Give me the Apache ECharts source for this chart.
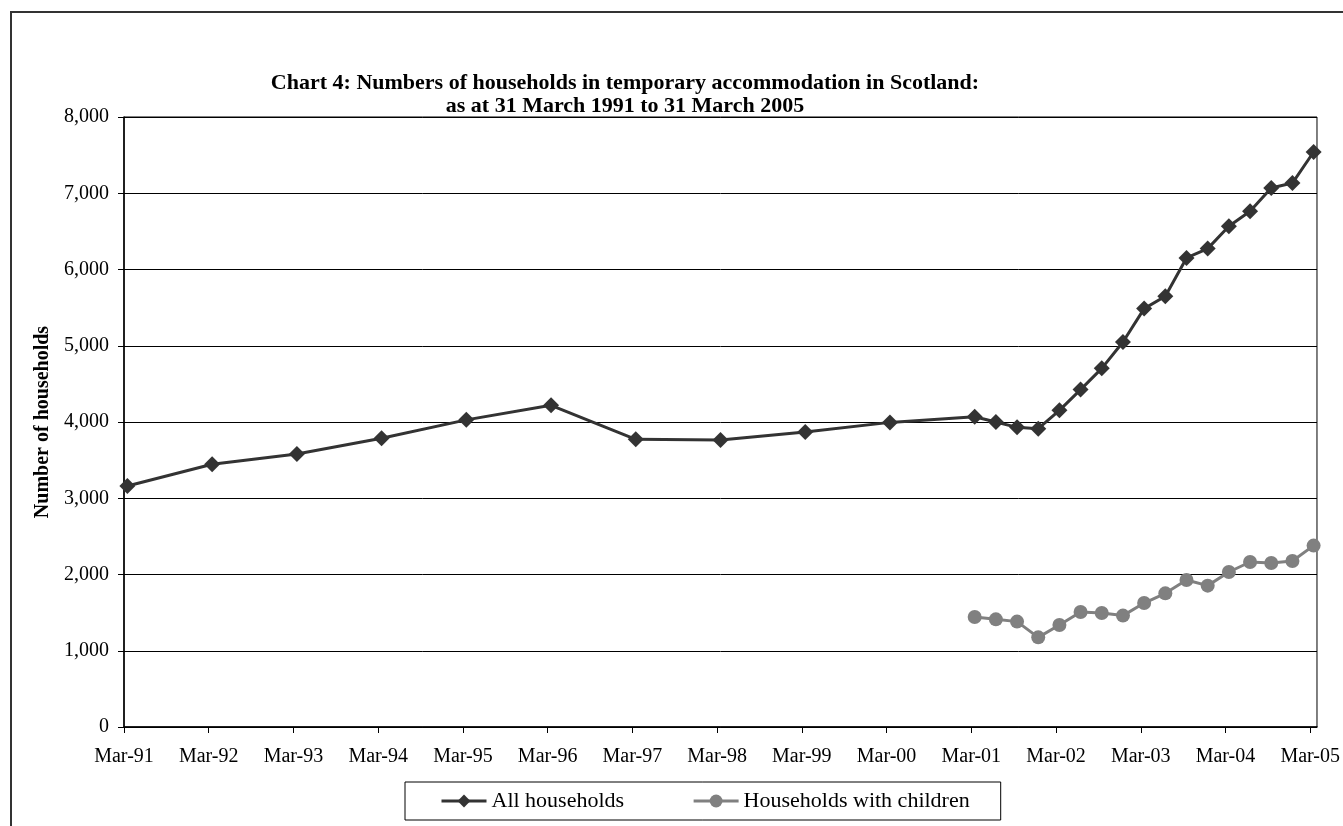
<!DOCTYPE html>
<html>
<head>
<meta charset="utf-8">
<script src="https://cdn.jsdelivr.net/npm/echarts@6/dist/echarts.min.js"></script>
<style>
html,body{margin:0;padding:0;background:#fff;}
#chart{width:1343px;height:826px;}
</style>
</head>
<body>
<div id="chart"></div>
<script>
// ---- data ----
var tickLabels = ['Mar-91','Mar-92','Mar-93','Mar-94','Mar-95','Mar-96','Mar-97','Mar-98','Mar-99','Mar-00','Mar-01','Mar-02','Mar-03','Mar-04','Mar-05'];

var allDates = ['Mar-91','Mar-92','Mar-93','Mar-94','Mar-95','Mar-96','Mar-97','Mar-98','Mar-99','Mar-00',
                'Mar-01','Jun-01','Sep-01','Dec-01','Mar-02','Jun-02','Sep-02','Dec-02','Mar-03','Jun-03','Sep-03','Dec-03',
                'Mar-04','Jun-04','Sep-04','Dec-04','Mar-05'];
var allValues = [3160,3445,3580,3786,4028,4219,3773,3764,3869,3995,
                 4068,4000,3930,3913,4153,4425,4704,5049,5487,5649,6151,6274,
                 6567,6763,7069,7134,7541];

var childDates = ['Mar-01','Jun-01','Sep-01','Dec-01','Mar-02','Jun-02','Sep-02','Dec-02','Mar-03','Jun-03','Sep-03','Dec-03',
                  'Mar-04','Jun-04','Sep-04','Dec-04','Mar-05'];
var childValues = [1443,1412,1382,1176,1338,1508,1495,1461,1626,1753,1928,1854,
                   2033,2164,2151,2177,2379];

var seriesNames = ['All households','Households with children'];

// map "Mon-YY" to years since March 1991 (data are as at the end of the month)
var monthOffset = {Mar:0, Jun:0.25, Sep:0.5, Dec:0.75};
function datePos(s){
  var p = s.split('-');
  var yy = parseInt(p[1],10);
  var year = yy > 50 ? 1900 + yy : 2000 + yy;
  return (year - 1991) + monthOffset[p[0]] + 0.04;
}
function pairs(dates, vals){
  return dates.map(function(d,i){ return [datePos(d), vals[i]]; });
}
var tickPos = tickLabels.map(function(t,i){ return i; });

var FONT = 'Liberation Serif, Times New Roman, serif';
var chart = echarts.init(document.getElementById('chart'), null, {renderer:'canvas'});
chart.setOption({
  backgroundColor:'#fff',
  animation:false,
  textStyle:{fontFamily:FONT, color:'#000'},
  title:{
    text:'Chart 4: Numbers of households in temporary accommodation in Scotland:\nas at 31 March 1991 to 31 March 2005',
    left:620, top:67, textAlign:'center',
    textStyle:{fontFamily:FONT, fontWeight:'bold', fontSize:22, lineHeight:23, color:'#000'}
  },
  graphic:[{
    type:'rect', silent:true,
    shape:{x:11, y:12, width:1400, height:900},
    style:{fill:'none', stroke:'#333', lineWidth:2}
  }],
  legend:{
    data:seriesNames,
    left:405, top:782,
    itemWidth:45, itemHeight:16, itemGap:68,
    padding:[8,31,8,35],
    borderColor:'#000', borderWidth:1,
    lineStyle:{width:3},
    textStyle:{fontFamily:FONT, fontSize:22, color:'#000'}
  },
  grid:{left:124, top:117, right:26, bottom:99, show:true, borderColor:'#000', borderWidth:1, containLabel:false},
  xAxis:{
    type:'value', min:0, max:14.08,
    axisLine:{show:true, onZero:false, lineStyle:{color:'#000', width:1.5}},
    axisTick:{show:true, customValues:tickPos, length:6, lineStyle:{color:'#000'}},
    axisLabel:{customValues:tickPos, margin:20, fontFamily:FONT, fontSize:20, color:'#000',
      formatter:function(v){ var i=Math.round(v); return tickLabels[i]||''; }},
    splitLine:{show:false}
  },
  yAxis:{
    type:'value', min:0, max:8000, interval:1000,
    name:'Number of households', nameLocation:'middle', nameGap:68, nameRotate:90,
    nameTextStyle:{fontFamily:FONT, fontWeight:'bold', fontSize:20, color:'#000'},
    axisLine:{show:true, lineStyle:{color:'#000', width:1.5}},
    axisTick:{show:true, length:6, lineStyle:{color:'#000'}},
    axisLabel:{margin:15, fontFamily:FONT, fontSize:20, color:'#000',
      formatter:function(v){ return v.toString().replace(/\B(?=(\d{3})+(?!\d))/g, ','); }},
    splitLine:{show:true, lineStyle:{color:'#000', width:1}}
  },
  series:[
    {name:seriesNames[0], type:'line', data:pairs(allDates, allValues),
     symbol:'diamond', symbolSize:16, showAllSymbol:true,
     lineStyle:{color:'#333333', width:3}, itemStyle:{color:'#333333'}, z:3},
    {name:seriesNames[1], type:'line', data:pairs(childDates, childValues),
     symbol:'circle', symbolSize:14, showAllSymbol:true,
     lineStyle:{color:'#808080', width:3}, itemStyle:{color:'#808080'}, z:2}
  ]
});
</script>
</body>
</html>
